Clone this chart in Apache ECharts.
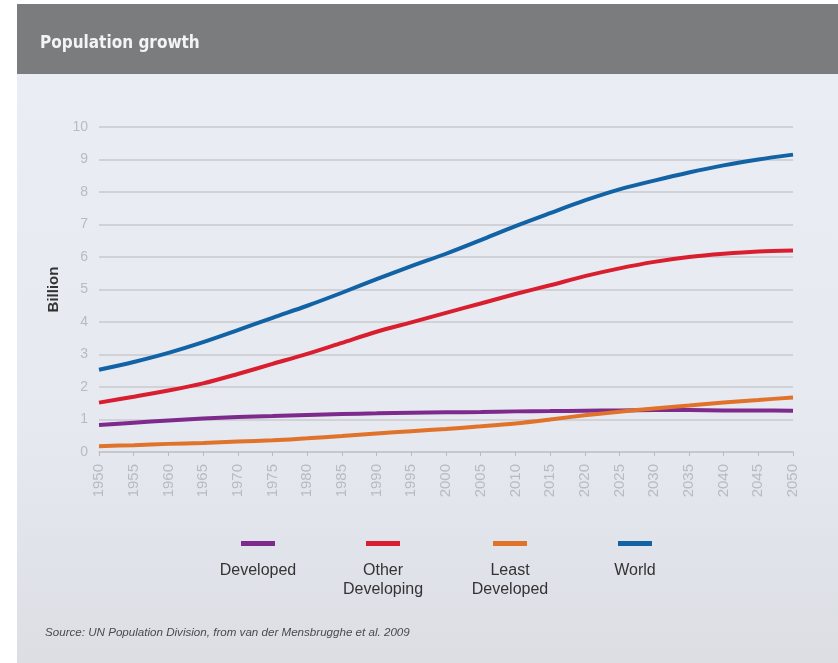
<!DOCTYPE html>
<html>
<head>
<meta charset="utf-8">
<script src="https://cdn.jsdelivr.net/npm/echarts@6/dist/echarts.min.js"></script>
<style>
  html, body { margin: 0; padding: 0; background: #fff; }
  #chart { width: 838px; height: 663px; }
</style>
</head>
<body>
<div id="chart"></div>
<script>
// years on the x axis, 5-year steps
const years = ['1950', '1955', '1960', '1965', '1970', '1975', '1980', '1985', '1990', '1995', '2000',
  '2005', '2010', '2015', '2020', '2025', '2030', '2035', '2040', '2045', '2050']

// billions
const developed = [0.83, 0.90, 0.97, 1.03, 1.08, 1.11, 1.14, 1.17, 1.19, 1.21, 1.22,
  1.23, 1.25, 1.26, 1.27, 1.28, 1.29, 1.29, 1.28, 1.28, 1.27]
const otherDeveloping = [1.52, 1.70, 1.89, 2.11, 2.40, 2.71, 3.02, 3.36, 3.70, 3.99, 4.28,
  4.57, 4.86, 5.13, 5.41, 5.65, 5.85, 6.00, 6.10, 6.17, 6.20]
const leastDeveloped = [0.18, 0.21, 0.25, 0.28, 0.32, 0.36, 0.42, 0.49, 0.57, 0.64, 0.71,
  0.79, 0.88, 1.00, 1.13, 1.24, 1.34, 1.43, 1.52, 1.60, 1.68]
const world = [2.53, 2.77, 3.05, 3.38, 3.75, 4.13, 4.50, 4.90, 5.32, 5.72, 6.10,
  6.52, 6.95, 7.35, 7.74, 8.08, 8.35, 8.60, 8.82, 9.00, 9.15]

const seriesNames = ['Developed', 'Other\nDeveloping', 'Least\nDeveloped', 'World']
const seriesColors = ['#7d2a8c', '#d91f2f', '#e0722a', '#1262a6']
const seriesData = [developed, otherDeveloping, leastDeveloped, world]
const legendX = [258, 383, 510, 635]

const chart = echarts.init(document.getElementById('chart'))

// legend: short bar with the label underneath, which the built-in legend can't do
const legendGraphics = []
seriesNames.forEach((name, i) => {
  legendGraphics.push({
    type: 'rect',
    shape: { x: legendX[i] - 17, y: 541, width: 34, height: 5 },
    style: { fill: seriesColors[i] },
  })
  legendGraphics.push({
    type: 'text',
    x: legendX[i],
    y: 561,
    style: {
      text: name,
      fill: '#333335',
      font: '16px "Liberation Sans", sans-serif',
      align: 'center',
      verticalAlign: 'top',
      lineHeight: 19,
    },
  })
})

const option = {
  animation: false,
  graphic: [
    // header band
    {
      type: 'rect',
      shape: { x: 17, y: 4, width: 821, height: 70 },
      style: { fill: '#7b7c7e' },
      z: -10,
    },
    // body background
    {
      type: 'rect',
      shape: { x: 17, y: 74, width: 821, height: 589 },
      style: {
        fill: new echarts.graphic.LinearGradient(0, 0, 0, 1, [
          { offset: 0, color: '#eaedf4' },
          { offset: 0.6, color: '#e6e9f0' },
          { offset: 1, color: '#dcdee4' },
        ]),
      },
      z: -10,
    },
    {
      type: 'text',
      x: 40,
      y: 44,
      style: {
        text: 'Population growth',
        fill: '#f4f4f4',
        font: 'bold 17px "DejaVu Sans Condensed", "Liberation Sans", sans-serif',
        verticalAlign: 'middle',
      },
    },
    {
      type: 'text',
      x: 45,
      y: 633,
      style: {
        text: 'Source: UN Population Division, from van der Mensbrugghe et al. 2009',
        fill: '#4a4a4e',
        font: 'italic 11.6px "Liberation Sans", sans-serif',
        verticalAlign: 'middle',
      },
    },
    ...legendGraphics,
  ],
  grid: {
    left: 99,
    right: 45,
    top: 127,
    bottom: 211,
  },
  xAxis: {
    type: 'category',
    data: years,
    boundaryGap: false,
    axisLine: { lineStyle: { color: '#c3c5ca', width: 1.5 } },
    axisTick: { length: 4, lineStyle: { color: '#b8bbc0' } },
    axisLabel: {
      rotate: 90,
      margin: 12,
      color: '#b8bbc0',
      fontSize: 15,
      fontFamily: '"Liberation Sans", sans-serif',
    },
    splitLine: { show: false },
  },
  yAxis: {
    type: 'value',
    min: 0,
    max: 10,
    interval: 1,
    name: 'Billion',
    nameLocation: 'middle',
    nameGap: 38,
    nameRotate: 90,
    nameTextStyle: {
      color: '#333335',
      fontSize: 15,
      fontWeight: 'bold',
      fontFamily: '"Liberation Sans", sans-serif',
    },
    axisLine: { show: false },
    axisTick: { show: false },
    axisLabel: {
      margin: 11,
      color: '#b8bbc0',
      fontSize: 14,
      fontFamily: '"Liberation Sans", sans-serif',
    },
    splitLine: { lineStyle: { color: '#c8cacf', width: 1.5 } },
  },
  series: seriesData.map((data, i) => ({
    name: seriesNames[i],
    type: 'line',
    data: data,
    smooth: 0.3,
    showSymbol: false,
    lineStyle: { width: 4, color: seriesColors[i] },
    itemStyle: { color: seriesColors[i] },
    z: i === 2 ? 3 : 2,
  })),
}

chart.setOption(option)
</script>
</body>
</html>
